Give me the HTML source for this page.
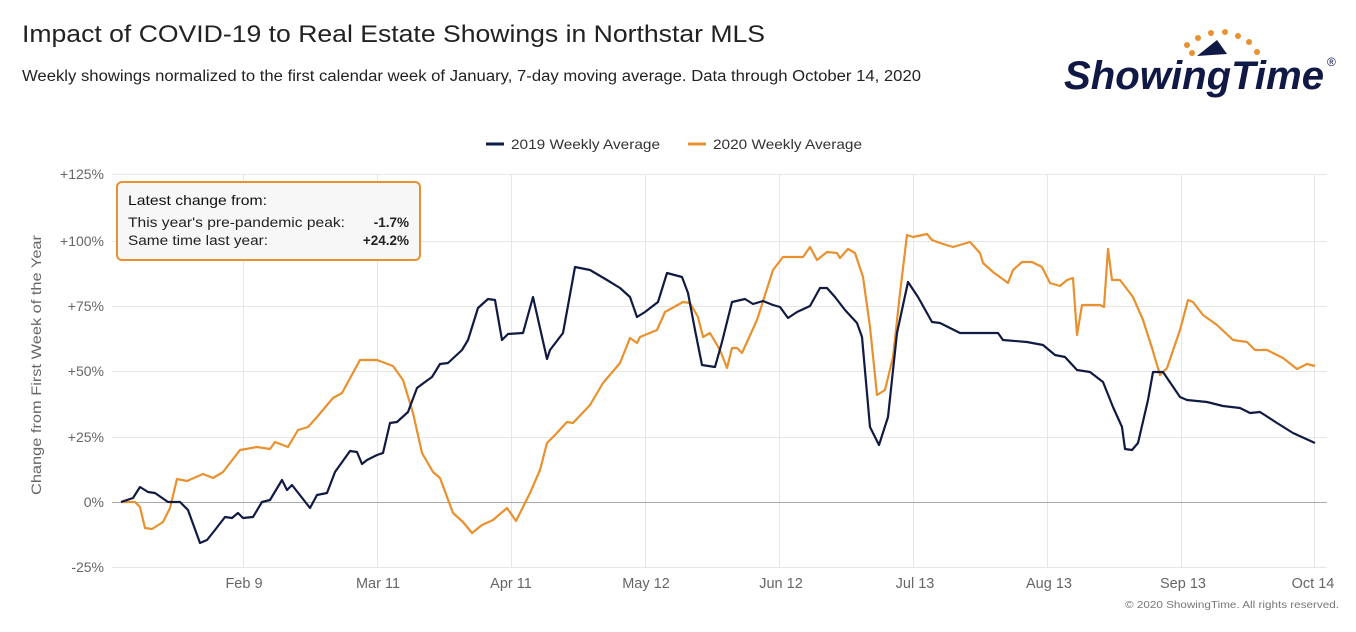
<!DOCTYPE html>
<html><head><meta charset="utf-8"><style>
body{margin:0;width:1356px;height:627px;background:#fff;font-family:"Liberation Sans",sans-serif;overflow:hidden}
</style></head><body>
<svg width="1356" height="627" xmlns="http://www.w3.org/2000/svg" font-family="Liberation Sans, sans-serif">
<text x="22" y="42" font-size="24" fill="#222" textLength="743" lengthAdjust="spacingAndGlyphs">Impact of COVID-19 to Real Estate Showings in Northstar MLS</text>
<text x="22" y="81" font-size="15.5" fill="#222" textLength="899" lengthAdjust="spacingAndGlyphs">Weekly showings normalized to the first calendar week of January, 7-day moving average. Data through October 14, 2020</text>
<g fill="#e8912e">
<circle cx="1187" cy="45" r="3"/><circle cx="1198" cy="38" r="3"/><circle cx="1211" cy="33" r="3"/><circle cx="1225" cy="32" r="3"/><circle cx="1238" cy="36" r="3"/><circle cx="1249" cy="42" r="3"/><circle cx="1257" cy="52" r="3"/><circle cx="1192" cy="53" r="3"/></g>
<path d="M1217 40 L1227 54 L1197 56 Z" fill="#101945"/>
<text x="1064" y="89" font-size="40" font-weight="bold" font-style="italic" fill="#101945" textLength="260" lengthAdjust="spacingAndGlyphs">ShowingTime</text>
<text x="1327" y="66" font-size="12" fill="#101945">®</text>
<line x1="486" y1="144" x2="504" y2="144" stroke="#111a42" stroke-width="3"/>
<text x="511" y="149" font-size="14" fill="#333" textLength="149" lengthAdjust="spacingAndGlyphs">2019 Weekly Average</text>
<line x1="688" y1="144" x2="706" y2="144" stroke="#e8912e" stroke-width="3"/>
<text x="713" y="149" font-size="14" fill="#333" textLength="149" lengthAdjust="spacingAndGlyphs">2020 Weekly Average</text>
<g stroke="#e6e6e6" stroke-width="1">
<line x1="112" y1="174.5" x2="1327" y2="174.5"/><line x1="112" y1="241.5" x2="1327" y2="241.5"/><line x1="112" y1="306.5" x2="1327" y2="306.5"/><line x1="112" y1="371.5" x2="1327" y2="371.5"/><line x1="112" y1="437.5" x2="1327" y2="437.5"/><line x1="112" y1="567.5" x2="1327" y2="567.5"/>
<line x1="243.5" y1="174" x2="243.5" y2="567"/><line x1="377.5" y1="174" x2="377.5" y2="567"/><line x1="511.5" y1="174" x2="511.5" y2="567"/><line x1="645.5" y1="174" x2="645.5" y2="567"/><line x1="779.5" y1="174" x2="779.5" y2="567"/><line x1="913.5" y1="174" x2="913.5" y2="567"/><line x1="1047.5" y1="174" x2="1047.5" y2="567"/><line x1="1181.5" y1="174" x2="1181.5" y2="567"/><line x1="1314.5" y1="174" x2="1314.5" y2="567"/>
</g>
<line x1="112" y1="502.5" x2="1327" y2="502.5" stroke="#aaa"/>
<g font-size="14" fill="#666" text-anchor="end">
<text x="104" y="179">+125%</text><text x="104" y="246">+100%</text><text x="104" y="311">+75%</text><text x="104" y="376">+50%</text><text x="104" y="442">+25%</text><text x="104" y="507">0%</text><text x="104" y="572">-25%</text></g>
<g font-size="14.5" fill="#666" text-anchor="middle">
<text x="244" y="588">Feb 9</text><text x="378" y="588">Mar 11</text><text x="511" y="588">Apr 11</text><text x="646" y="588">May 12</text><text x="781" y="588">Jun 12</text><text x="915" y="588">Jul 13</text><text x="1049" y="588">Aug 13</text><text x="1183" y="588">Sep 13</text><text x="1313" y="588">Oct 14</text></g>
<text x="41" y="365" font-size="14" fill="#666" text-anchor="middle" transform="rotate(-90 41 365)" textLength="260" lengthAdjust="spacingAndGlyphs">Change from First Week of the Year</text>
<text x="1339" y="608" font-size="10" fill="#777" text-anchor="end" textLength="214" lengthAdjust="spacingAndGlyphs">© 2020 ShowingTime. All rights reserved.</text>
<polyline fill="none" stroke="#e8912e" stroke-width="2.2" stroke-linejoin="round" points="121,502 135,502 140,507 145,528 152,529 163,522 170,508 177,479 187,481 203,474 213,478 223,472 240,450 257,447 270,449 275,442 288,447 298,430 308,427 317,417 333,398 342,393 360,360 377,360 393,366 403,380 413,413 422,453 433,472 440,478 453,513 463,522 472,533 482,525 493,520 507,508 516,521 530,493 540,470 547,443 555,435 567,422 573,423 590,405 603,383 620,363 630,338 637,343 640,337 657,330 665,312 683,302 690,303 698,317 703,337 710,333 720,350 727,368 732,348 737,348 742,353 757,320 773,270 783,257 803,257 810,247 817,260 827,252 837,253 840,258 848,249 855,253 863,277 870,327 877,395 885,390 893,357 900,293 907,235 913,237 927,234 932,240 940,243 953,247 970,242 980,253 983,263 993,272 1008,283 1013,270 1022,262 1032,262 1042,267 1050,283 1060,286 1067,280 1073,278 1077,335 1082,305 1100,305 1104,307 1108,249 1112,280 1120,280 1133,297 1143,320 1152,348 1160,375 1167,368 1180,330 1188,300 1193,302 1203,315 1217,325 1233,340 1247,342 1255,350 1267,350 1283,358 1297,369 1307,364 1315,366"/>
<polyline fill="none" stroke="#111a42" stroke-width="2.2" stroke-linejoin="round" points="121,502 133,498 140,487 148,492 155,493 168,502 180,502 188,510 200,543 207,540 215,530 225,517 232,518 238,513 243,518 253,517 262,502 270,500 282,480 287,490 292,485 310,508 317,495 327,493 335,472 350,451 357,452 362,464 367,460 377,455 383,453 390,423 397,422 408,412 417,388 425,382 432,377 440,364 448,363 462,350 468,340 478,308 488,299 495,300 502,340 508,334 523,333 533,297 547,359 550,350 563,333 575,267 590,270 607,280 620,288 630,297 637,317 645,312 658,302 667,273 682,277 688,293 695,330 702,365 715,367 722,342 732,302 745,299 753,304 763,301 773,305 780,307 788,318 797,312 810,306 820,288 827,288 835,297 845,310 857,323 862,337 870,427 879,445 888,417 897,333 908,282 918,297 932,322 940,323 960,333 998,333 1003,340 1027,342 1043,345 1055,355 1065,357 1077,370 1090,372 1103,382 1113,407 1122,427 1125,449 1132,450 1138,443 1148,400 1153,372 1163,372 1180,397 1187,400 1207,402 1223,406 1240,408 1250,413 1260,412 1277,423 1293,433 1315,443"/>
<rect x="117" y="182" width="303" height="78" rx="5" fill="#f7f7f7" stroke="#e8912e" stroke-width="2"/>
<text x="128" y="205" font-size="14" fill="#111" textLength="139" lengthAdjust="spacingAndGlyphs">Latest change from:</text>
<text x="128" y="227" font-size="13.5" fill="#222" textLength="217" lengthAdjust="spacingAndGlyphs">This year's pre-pandemic peak:</text>
<text x="128" y="245" font-size="13.5" fill="#222" textLength="140" lengthAdjust="spacingAndGlyphs">Same time last year:</text>
<text x="409" y="227" font-size="13.5" font-weight="bold" fill="#222" text-anchor="end">-1.7%</text>
<text x="409" y="245" font-size="13.5" font-weight="bold" fill="#222" text-anchor="end">+24.2%</text>
</svg>
</body></html>
